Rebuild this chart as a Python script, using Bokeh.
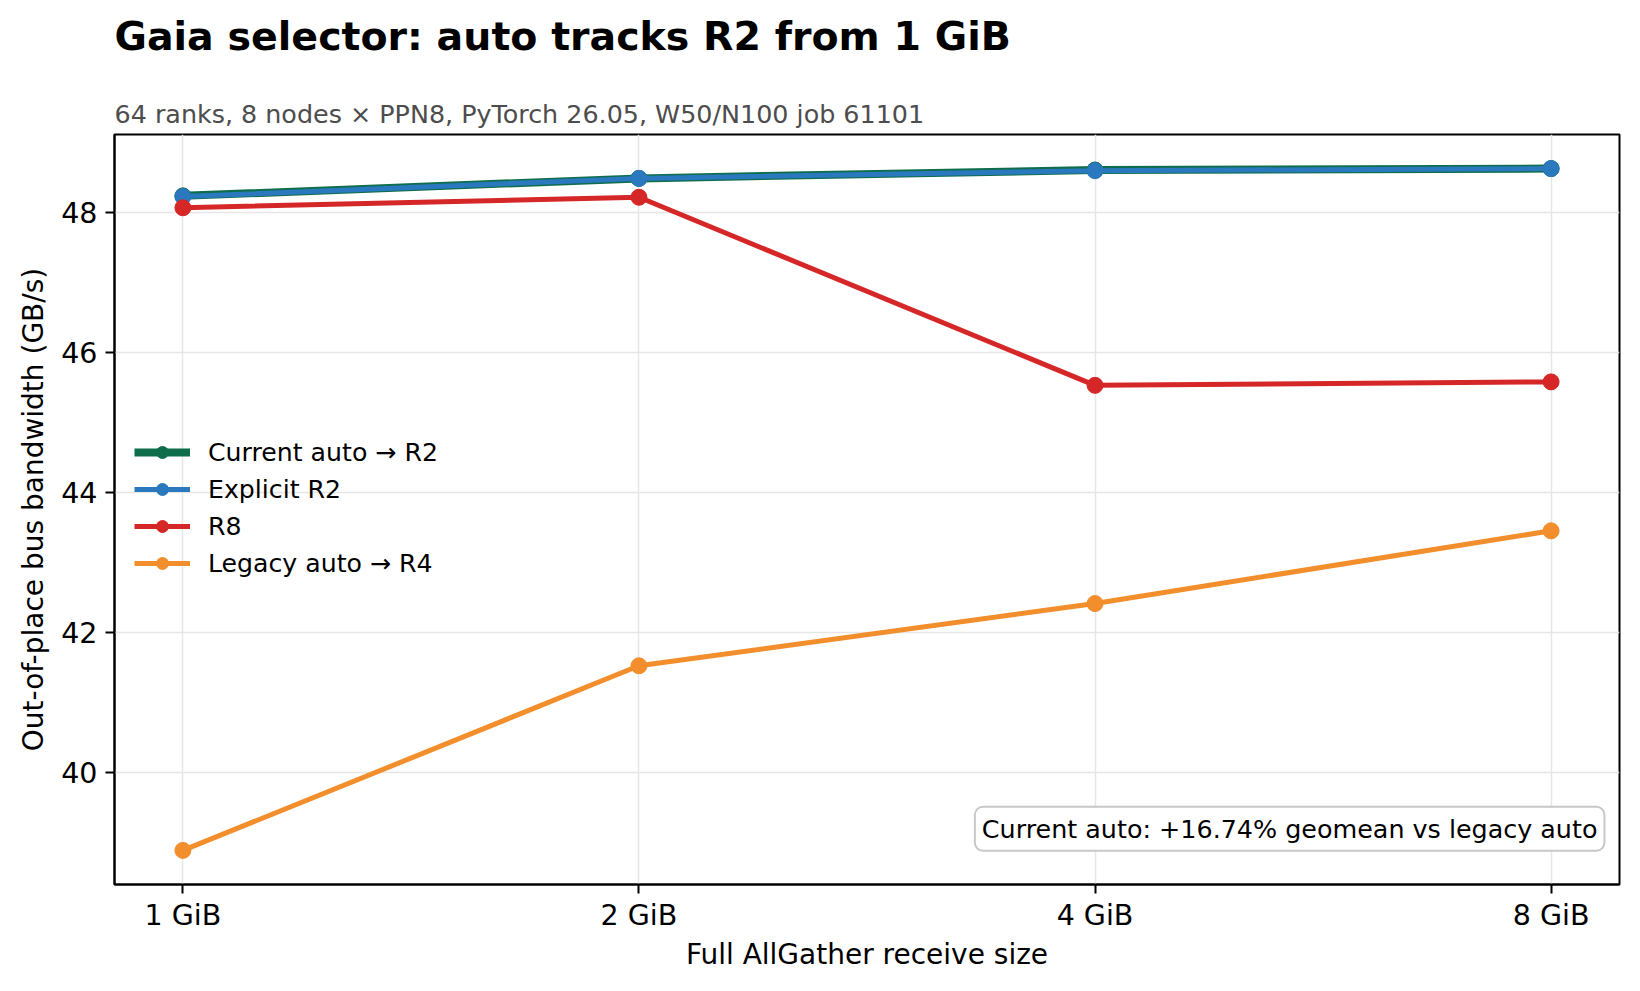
from bokeh.plotting import figure
from bokeh.models import Range1d, FixedTicker, Title, Label, Legend, LegendItem
from bokeh.embed import file_html
from bokeh.resources import INLINE
import math

# ---- data ----
sizes_gib = [1, 2, 4, 8]
size_labels = ["1 GiB", "2 GiB", "4 GiB", "8 GiB"]
current_auto = [48.24, 48.49, 48.61, 48.63]
explicit_r2 = [48.23, 48.49, 48.60, 48.63]
r8 = [48.07, 48.22, 45.53, 45.58]
legacy_auto = [38.88, 41.52, 42.41, 43.45]

series_names = ["Current auto \u2192 R2", "Explicit R2", "R8", "Legacy auto \u2192 R4"]
series_colors = ["#0e6e4c", "#2a78bd", "#d62728", "#f28e2b"]
series_widths = [8, 5, 5, 5]

title_text = "Gaia selector: auto tracks R2 from 1 GiB"
subtitle_text = "64 ranks, 8 nodes \u00d7 PPN8, PyTorch 26.05, W50/N100 job 61101"
note_text = "Current auto: +16.74% geomean vs legacy auto"
x_label = "Full AllGather receive size"
y_label = "Out-of-place bus bandwidth (GB/s)"
y_ticks = [40, 42, 44, 46, 48]

FONT = "DejaVu Sans"

# ranges (matplotlib-like 5% margins)
lx0, lx1 = math.log2(sizes_gib[0]), math.log2(sizes_gib[-1])
pad = 0.05 * (lx1 - lx0)
x_start, x_end = 2 ** (lx0 - pad), 2 ** (lx1 + pad)
all_y = current_auto + explicit_r2 + r8 + legacy_auto
ymin, ymax = min(all_y), max(all_y)
ypad = 0.05 * (ymax - ymin)
y_start, y_end = ymin - ypad, ymax + ypad

p = figure(width=1624, height=975, x_axis_type="log",
           x_range=Range1d(x_start, x_end), y_range=Range1d(y_start, y_end),
           output_backend="svg", toolbar_location=None,
           min_border_left=114, min_border_right=5, min_border_top=0, min_border_bottom=91)

p.add_layout(Title(text=subtitle_text, text_font=FONT, text_font_size="25.4px",
                   text_font_style="normal", text_color="#4d4d4d", align="left", standoff=11), "above")
# spacer between subtitle and title
p.add_layout(Title(text=" ", text_font=FONT, text_font_size="1px", align="left", standoff=20), "above")
p.add_layout(Title(text=title_text, text_font=FONT, text_font_size="39.5px",
                   text_font_style="bold", text_color="black", align="left", standoff=20), "above")

p.outline_line_color = "black"
p.outline_line_width = 2
p.background_fill_color = "white"
p.border_fill_color = "white"

for ax in (p.xaxis[0], p.yaxis[0]):
    ax.axis_line_color = "black"
    ax.axis_line_width = 2
    ax.major_tick_line_color = "black"
    ax.major_tick_line_width = 2
    ax.major_tick_out = 9
    ax.major_tick_in = 0
    ax.minor_tick_line_color = None
    ax.major_label_text_font = FONT
    ax.major_label_text_font_size = "28.5px"
    ax.major_label_text_color = "black"
    ax.axis_label_text_font = FONT
    ax.axis_label_text_font_size = "28px"
    ax.axis_label_text_font_style = "normal"
    ax.axis_label_text_color = "black"
    ax.major_label_standoff = 8

p.xaxis.ticker = FixedTicker(ticks=sizes_gib)
p.xaxis.major_label_overrides = {s: l for s, l in zip(sizes_gib, size_labels)}
p.xaxis.axis_label = x_label
p.xaxis.major_label_standoff = 5
p.xaxis.axis_label_standoff = 3
p.yaxis.ticker = FixedTicker(ticks=y_ticks)
p.yaxis.axis_label = y_label
p.yaxis.axis_label_standoff = 8

p.xgrid.grid_line_color = "#e6e6e6"
p.ygrid.grid_line_color = "#e6e6e6"
p.xgrid.grid_line_width = 1.5
p.ygrid.grid_line_width = 1.5

items = []
for name, vals, col, lw in zip(series_names, [current_auto, explicit_r2, r8, legacy_auto],
                               series_colors, series_widths):
    l = p.line(sizes_gib, vals, line_color=col, line_width=lw)
    s = p.scatter(sizes_gib, vals, size=16, fill_color=col, line_color=col)
    items.append(LegendItem(label=name, renderers=[l, s]))

legend = Legend(items=items, location=(20, 306), padding=0, margin=0, spacing=7,
                glyph_width=56, glyph_height=30, label_height=30, label_standoff=18,
                label_text_font=FONT, label_text_font_size="25.2px", label_text_color="black",
                border_line_alpha=0, background_fill_alpha=0)
p.add_layout(legend, "center")

# annotation box in axes fraction (0.99, 0.045)
lxs, lxe = math.log2(x_start), math.log2(x_end)
note_x = 2 ** (lxs + 0.99 * (lxe - lxs))
note_y = y_start + 0.045 * (y_end - y_start)
p.add_layout(Label(x=note_x, y=note_y, text=note_text, text_align="right", text_baseline="bottom",
                   text_font=FONT, text_font_size="25.4px", text_color="black",
                   background_fill_color="white", border_line_color="#c8c8c8",
                   border_line_width=2, padding=7, border_radius=8))

open("out.html", "w").write(file_html(p, INLINE))
